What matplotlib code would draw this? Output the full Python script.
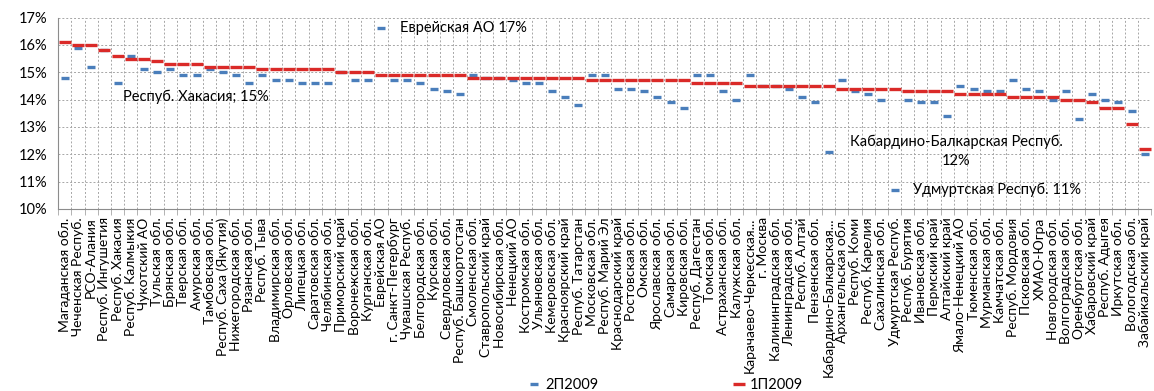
import matplotlib.pyplot as plt
from matplotlib.ticker import FuncFormatter
import numpy as np

plt.rcParams['font.family'] = ['Lato', 'DejaVu Sans']

regions = [
    "Магаданская обл.", "Чеченская Респуб.", "РСО-Алания", "Респуб. Ингушетия",
    "Респуб. Хакасия", "Респуб. Калмыкия", "Чукотский АО", "Тульская обл.",
    "Брянская обл.", "Тверская обл.", "Амурская обл.", "Тамбовская обл.",
    "Респуб. Саха (Якутия)", "Нижегородская обл.", "Рязанская обл.", "Респуб. Тыва",
    "Владимирская обл.", "Орловская обл.", "Липецкая обл.", "Саратовская обл.",
    "Челябинская обл.", "Приморский край", "Воронежская обл.", "Курганская обл.",
    "Еврейская АО", "г. Санкт-Петербург", "Чувашская Респуб.", "Белгородская обл.",
    "Курская обл.", "Свердловская обл.", "Респуб. Башкортостан", "Смоленская обл.",
    "Ставропольский край", "Новосибирская обл.", "Ненецкий АО", "Костромская обл.",
    "Ульяновская обл.", "Кемеровская обл.", "Красноярский край", "Респуб. Татарстан",
    "Московская обл.", "Респуб. Марий Эл", "Краснодарский край", "Ростовская обл.",
    "Омская обл.", "Ярославская обл.", "Самарская обл.", "Кировская обл.",
    "Респуб. Дагестан", "Томская обл.", "Астраханская обл.", "Калужская обл.",
    "Карачаево-Черкесская...", "г. Москва", "Калининградская обл.", "Ленинградская обл.",
    "Респуб. Алтай", "Пензенская обл.", "Кабардино-Балкарская...", "Архангельская обл.",
    "Респуб. Коми", "Респуб. Карелия", "Сахалинская обл.", "Удмуртская Респуб.",
    "Респуб. Бурятия", "Ивановская обл.", "Пермский край", "Алтайский край",
    "Ямало-Ненецкий АО", "Тюменская обл.", "Мурманская обл.", "Камчатская обл.",
    "Респуб. Мордовия", "Псковская обл.", "ХМАО-Югра", "Новгородская обл.",
    "Волгоградская обл.", "Оренбургская обл.", "Хабаровский край", "Респуб. Адыгея",
    "Иркутская обл.", "Вологодская обл.", "Забайкальский край",
]

# 2П2009, %
p2_2009 = [
    14.8, 15.9, 15.2, 15.8, 14.6, 15.6, 15.1, 15.0, 15.1, 14.9,
    14.9, 15.1, 15.0, 14.9, 14.6, 14.9, 14.7, 14.7, 14.6, 14.6,
    14.6, 15.0, 14.7, 14.7, 16.6, 14.7, 14.7, 14.6, 14.4, 14.3,
    14.2, 14.9, 14.8, 14.8, 14.7, 14.6, 14.6, 14.3, 14.1, 13.8,
    14.9, 14.9, 14.4, 14.4, 14.3, 14.1, 13.9, 13.7, 14.9, 14.9,
    14.3, 14.0, 14.9, 14.5, 14.5, 14.4, 14.1, 13.9, 12.1, 14.7,
    14.3, 14.2, 14.0, 10.7, 14.0, 13.9, 13.9, 13.4, 14.5, 14.4,
    14.3, 14.3, 14.7, 14.4, 14.3, 14.0, 14.3, 13.3, 14.2, 14.0,
    13.9, 13.6, 12.0,
]

# 1П2009, %
p1_2009 = [
    16.1, 16.0, 16.0, 15.8, 15.6, 15.5, 15.5, 15.4, 15.3, 15.3,
    15.3, 15.2, 15.2, 15.2, 15.2, 15.1, 15.1, 15.1, 15.1, 15.1,
    15.1, 15.0, 15.0, 15.0, 14.9, 14.9, 14.9, 14.9, 14.9, 14.9,
    14.9, 14.8, 14.8, 14.8, 14.8, 14.8, 14.8, 14.8, 14.8, 14.8,
    14.7, 14.7, 14.7, 14.7, 14.7, 14.7, 14.7, 14.7, 14.6, 14.6,
    14.6, 14.6, 14.5, 14.5, 14.5, 14.5, 14.5, 14.5, 14.5, 14.4,
    14.4, 14.4, 14.4, 14.4, 14.3, 14.3, 14.3, 14.3, 14.2, 14.2,
    14.2, 14.2, 14.1, 14.1, 14.1, 14.1, 14.0, 14.0, 13.9, 13.7,
    13.7, 13.1, 12.2,
]

blue = '#4A7EBB'
red = '#DA2A28'
grid_col = '#A6A6A6'

fig = plt.figure(figsize=(11.54, 3.91), dpi=100)
ax = fig.add_axes([58.3 / 1154, 1 - 209 / 391, 1093 / 1154, 191.5 / 391])

x = np.arange(len(regions))
ax.plot(x, p2_2009, ls='none', marker='_', ms=6, mew=2.4, color=blue, label='2П2009')
ax.plot(x, p1_2009, ls='none', marker='_', ms=8.5, mew=2.4, color=red, label='1П2009')

ax.set_xlim(-0.5, len(regions) - 0.5)
ax.set_ylim(10, 17)
ax.set_yticks(range(10, 18))
ax.yaxis.set_major_formatter(FuncFormatter(lambda v, p: f'{v:.0f}%'))

ax.set_xticks(x)
ax.set_xticklabels(regions, rotation=90, fontsize=10)
ax.set_xticks(np.arange(-0.5, len(regions)), minor=True)
ax.tick_params(axis='x', which='major', length=0, pad=6)
ax.tick_params(axis='x', which='minor', length=4, color=grid_col)
ax.tick_params(axis='y', length=0, labelsize=10.5, pad=8)

ax.grid(True, which='minor', axis='x', color=grid_col, ls=(0, (2, 2)), lw=0.7)
ax.grid(True, which='major', axis='y', color=grid_col, ls=(0, (2, 2)), lw=0.7)
ax.set_axisbelow(True)
for s in ['top', 'right']:
    ax.spines[s].set_visible(False)
for s in ['left', 'bottom']:
    ax.spines[s].set_color('#8C8C8C')

# data labels
ax.annotate('Еврейская АО 17%', xy=(24, p2_2009[24]), xytext=(14, 0),
            textcoords='offset points', ha='left', va='center', fontsize=10.5)
ax.annotate('Респуб. Хакасия; 15%', xy=(4, p2_2009[4]), xytext=(4, -10),
            textcoords='offset points', ha='left', va='center', fontsize=10.5)
ax.annotate('Кабардино-Балкарская Респуб.\n12%', xy=(58, p2_2009[58]), xytext=(92, 0),
            textcoords='offset points', ha='center', va='center', fontsize=10.5,
            multialignment='center', linespacing=1.4)
ax.annotate('Удмуртская Респуб. 11%', xy=(63, p2_2009[63]), xytext=(13, 0),
            textcoords='offset points', ha='left', va='center', fontsize=10.5)

fig.legend(loc='center', bbox_to_anchor=(0.577, 0.016), ncol=2, frameon=False,
           fontsize=10.5, handlelength=0.7, handletextpad=0.4, columnspacing=9.3)

fig.savefig('out.png', dpi=100)
